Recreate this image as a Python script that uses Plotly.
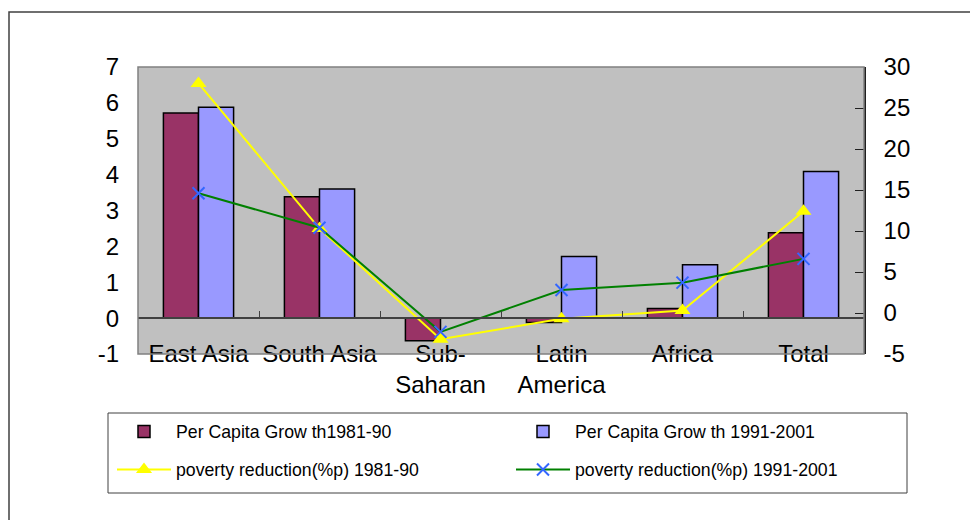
import plotly.graph_objects as go

categories = ["East Asia", "South Asia", "Sub-<br>Saharan", "Latin<br>America", "Africa", "Total"]
growth_1981_90 = [5.72, 3.38, -0.63, -0.12, 0.27, 2.38]
growth_1991_2001 = [5.88, 3.60, 0.0, 1.72, 1.49, 4.09]
poverty_1981_90 = [28.0, 10.3, -3.2, -0.7, 0.3, 12.4]
poverty_1991_2001 = [14.6, 10.4, -2.3, 2.8, 3.7, 6.6]

left_ticks = [-1, 0, 1, 2, 3, 4, 5, 6, 7]
right_ticks = [-5, 0, 5, 10, 15, 20, 25, 30]

FONT = "Liberation Sans, Arial, sans-serif"

fig = go.Figure()
fig.add_trace(go.Bar(
    x=categories, y=growth_1981_90, name="Per Capita Grow th1981-90",
    marker=dict(color="#993366", line=dict(color="black", width=1.5)),
    yaxis="y", legend="legend"))
fig.add_trace(go.Bar(
    x=categories, y=growth_1991_2001, name="Per Capita Grow th 1991-2001",
    marker=dict(color="#9999FF", line=dict(color="black", width=1.5)),
    yaxis="y", legend="legend"))
fig.add_trace(go.Scatter(
    x=categories, y=poverty_1981_90, name="poverty reduction(%p) 1981-90",
    mode="lines+markers", line=dict(color="#FFFF00", width=2),
    marker=dict(symbol="triangle-up", size=14, color="#FFFF00"),
    yaxis="y2", legend="legend2"))
fig.add_trace(go.Scatter(
    x=categories, y=poverty_1991_2001, name="poverty reduction(%p) 1991-2001",
    mode="lines+markers", line=dict(color="#008000", width=2),
    marker=dict(symbol="x-thin", size=12, color="#3366FF",
                line=dict(color="#3366FF", width=2)),
    yaxis="y2", legend="legend2"))

# pixel geometry helpers (plot area 138..864 x 67..354)
L, R, T, B = 138, 864, 67, 354
W, H = R - L, B - T
def px(x):
    return (x - L) / W
def py(y):
    return (B - y) / H

fig.update_layout(
    width=970, height=520,
    margin=dict(l=L, r=970 - R, t=T, b=520 - B),
    paper_bgcolor="white", plot_bgcolor="#C0C0C0",
    font=dict(family=FONT, size=24, color="black"),
    barmode="group", bargap=0.42, bargroupgap=0,
    xaxis=dict(
        type="category", anchor="free", position=0.125,
        range=[-0.5, 5.5], showgrid=False, zeroline=False,
        showline=True, linecolor="#404040", linewidth=1.5,
        ticks="inside", ticklen=6, tickcolor="#404040", tickwidth=1,
        tickson="boundaries", ticklabelstandoff=14, tickangle=0,
        tickfont=dict(size=24, family=FONT)),
    yaxis=dict(
        range=[-1, 7], tickvals=left_ticks, ticktext=[str(v) for v in left_ticks],
        showgrid=False, zeroline=False,
        showline=False, ticks="", ticklabelstandoff=18,
        tickfont=dict(size=24, family=FONT)),
    yaxis2=dict(
        range=[-5, 30], tickvals=right_ticks, ticktext=[str(v) for v in right_ticks],
        overlaying="y", side="right",
        anchor="x", showgrid=False, zeroline=False,
        showline=True, linecolor="#202020", linewidth=1.5,
        ticks="inside", ticklen=9, tickcolor="#202020",
        ticklabelstandoff=13, tickfont=dict(size=24, family=FONT)),
    legend=dict(
        orientation="h", x=px(112), xanchor="left", y=py(432), yanchor="middle",
        bgcolor="rgba(0,0,0,0)", borderwidth=0, itemwidth=54,
        entrywidth=330, font=dict(size=17.7, family=FONT), itemclick=False),
    legend2=dict(
        orientation="h", x=px(112), xanchor="left", y=py(470), yanchor="middle",
        bgcolor="rgba(0,0,0,0)", borderwidth=0, itemwidth=54,
        entrywidth=330, font=dict(size=17.7, family=FONT), itemclick=False),
    shapes=[
        dict(type="rect", xref="paper", yref="paper", x0=0, x1=1, y0=0, y1=1,
             line=dict(color="#808080", width=1.5), layer="above"),
        dict(type="rect", xref="paper", yref="paper",
             x0=px(108), x1=px(907), y0=py(493), y1=py(413),
             line=dict(color="#404040", width=1)),
        dict(type="rect", xref="paper", yref="paper",
             x0=px(9), x1=px(990), y0=py(540), y1=py(12),
             line=dict(color="#404040", width=1.5)),
    ],
)

fig.write_html("out.html", config={"displayModeBar": False},
               post_script="document.body.style.margin='0';")
